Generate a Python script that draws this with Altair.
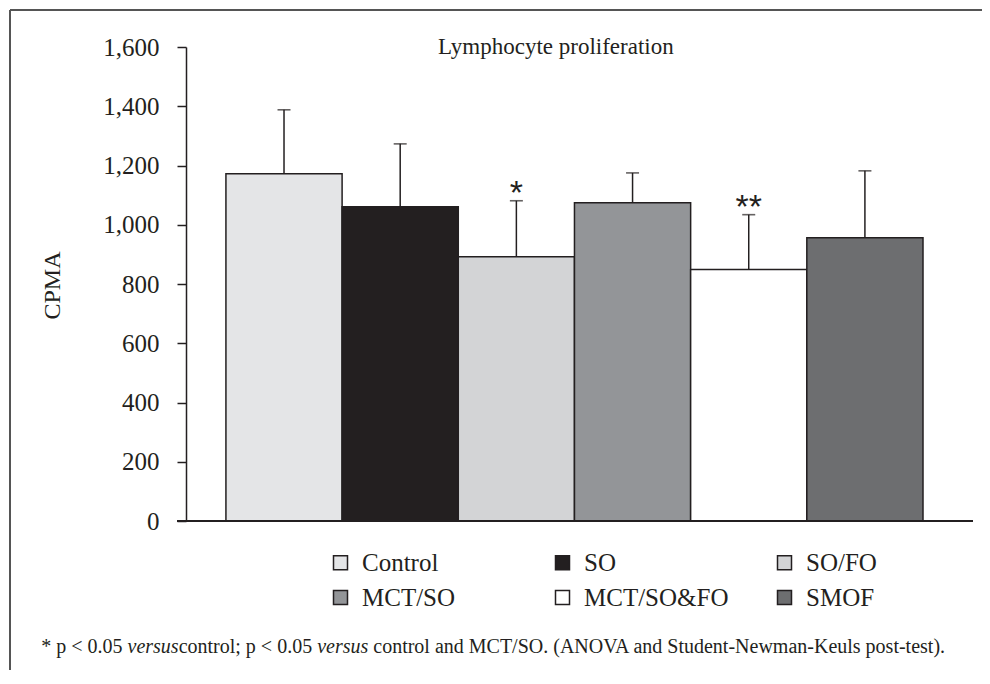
import altair as alt
import pandas as pd

# ---- data ----
groups = ["Control", "SO", "SO/FO", "MCT/SO", "MCT/SO&FO", "SMOF"]
means = [1172, 1061, 892, 1074, 849, 956]
sds = [216, 212, 189, 101, 185, 226]
sig = ["", "", "*", "", "**", ""]
colors = ["#e4e5e7", "#231f20", "#d3d4d6", "#939598", "#ffffff", "#6d6e70"]
y_ticks = [0, 200, 400, 600, 800, 1000, 1200, 1400, 1600]

title_text = "Lymphocyte proliferation"
y_title = "CPMA"
footnote = [
    ("* p < 0.05 ", "normal"),
    ("versus", "italic"),
    ("control; p < 0.05 ", "normal"),
    ("versus", "italic"),
    (" control and MCT/SO. (ANOVA and Student-Newman-Keuls post-test).", "normal"),
]

INK = "#231f20"
SERIF = "Liberation Serif"

df = pd.DataFrame({"group": groups, "mean": means, "sd": sds, "sig": sig})
df["upper"] = df["mean"] + df["sd"]

W, H = 787, 474

x_enc = alt.X(
    "group:N",
    sort=groups,
    scale=alt.Scale(domain=groups, paddingInner=0, paddingOuter=0.387, align=0.444),
    axis=None,
)
y_scale = alt.Scale(domain=[0, 1600], nice=False, zero=True)
y_axis = alt.Axis(
    values=y_ticks,
    labelExpr="format(datum.value, ',')",
    title=y_title,
    titleX=-134,
    titleY=238,
    titleAngle=-90,
    titleAlign="center",
    titleBaseline="middle",
    labelPadding=18,
    tickSize=9,
    tickWidth=1.5,
    tickColor=INK,
    domainColor=INK,
    domainWidth=1.5,
    grid=False,
)

base = alt.Chart(df)

bars = base.mark_bar(stroke=INK, strokeWidth=1.5).encode(
    x=x_enc,
    y=alt.Y("mean:Q", scale=y_scale, axis=y_axis),
    color=alt.Color(
        "group:N",
        sort=groups,
        scale=alt.Scale(domain=groups, range=colors),
        legend=alt.Legend(
            title=None,
            orient="none",
            legendX=142,
            legendY=503,
            direction="horizontal",
            columns=3,
            gridAlign="all",
            columnPadding=43,
            rowPadding=9,
            symbolType="square",
            symbolSize=196,
            symbolStrokeColor=INK,
            symbolStrokeWidth=1.5,
            labelOffset=9,
            padding=0,
        ),
    ),
)

errs = base.mark_rule(color=INK, strokeWidth=1.5).encode(
    x=x_enc, y=alt.Y("mean:Q", scale=y_scale, axis=y_axis), y2="upper:Q"
)
caps = base.mark_tick(color=INK, thickness=1.6, size=13).encode(
    x=x_enc, y=alt.Y("upper:Q", scale=y_scale, axis=y_axis)
)
stars = base.mark_text(
    font="Liberation Sans", fontSize=34, baseline="alphabetic", dy=3, color=INK
).encode(x=x_enc, y=alt.Y("upper:Q", scale=y_scale, axis=y_axis), text="sig:N")

one = alt.Chart(pd.DataFrame({"k": [0]}))
x_axis_line = one.mark_rule(color=INK, strokeWidth=1.8).encode(
    x=alt.value(-9), x2=alt.value(W), y=alt.value(H)
)
frame_top = one.mark_rule(color="#555555", strokeWidth=2).encode(
    x=alt.value(-176), x2=alt.value(820), y=alt.value(-37)
)
frame_left = one.mark_rule(color="#555555", strokeWidth=2).encode(
    x=alt.value(-176), y=alt.value(-37), y2=alt.value(660)
)
title_mark = one.mark_text(
    text=title_text, align="left", baseline="middle", font=SERIF,
    fontSize=23, color=INK,
).encode(x=alt.value(252), y=alt.value(0))

# footnote with mixed roman / italic pieces; offsets from Times metrics
roman = {" ": 250, "*": 500, "p": 500, "<": 564, "0": 500, ".": 250, "5": 500,
         "c": 444, "o": 500, "n": 500, "t": 278, "r": 333, "l": 278, ";": 278,
         "a": 444, "d": 500, "M": 889, "C": 667, "T": 611, "/": 278, "S": 556,
         "O": 722, "(": 333, "A": 722, "N": 722, "V": 722, "u": 500, "e": 444,
         "-": 333, "w": 722, "m": 778, "K": 722, "s": 389, ")": 333}
italic = {"v": 444, "e": 444, "r": 389, "s": 389, "u": 500}
FN_SIZE = 20


def seg_width(text, style):
    table = italic if style == "italic" else roman
    return sum(table.get(ch, 500) for ch in text) / 1000 * FN_SIZE


total = sum(seg_width(t, s) for t, s in footnote)
fn_center = 495 - 186
x0 = fn_center - total / 2
fn_layers = []
for text, style in footnote:
    stripped = text.lstrip(" ")
    lead = seg_width(text[: len(text) - len(stripped)], style)
    fn_layers.append(
        one.mark_text(
            text=stripped.rstrip(" "), align="left", baseline="middle", font=SERIF,
            fontSize=FN_SIZE, fontStyle=style, color=INK,
        ).encode(x=alt.value(x0 + lead), y=alt.value(600))
    )
    x0 += seg_width(text, style)

chart = (
    alt.layer(bars, errs, caps, stars, x_axis_line, frame_top, frame_left,
              title_mark, *fn_layers)
    .properties(
        width=W,
        height=H,
        autosize=alt.AutoSizeParams(type="none"),
        padding={"left": 178, "top": 39, "right": 9, "bottom": 149},
        background="white",
    )
    .configure_view(stroke=None)
    .configure_axis(
        labelFont=SERIF, labelFontSize=25, labelColor=INK,
        titleFont=SERIF, titleFontSize=24, titleFontWeight="normal", titleColor=INK,
    )
    .configure_legend(labelFont=SERIF, labelFontSize=25, labelColor=INK)
)

chart.save("out.html", embed_options={"renderer": "svg", "actions": False})
